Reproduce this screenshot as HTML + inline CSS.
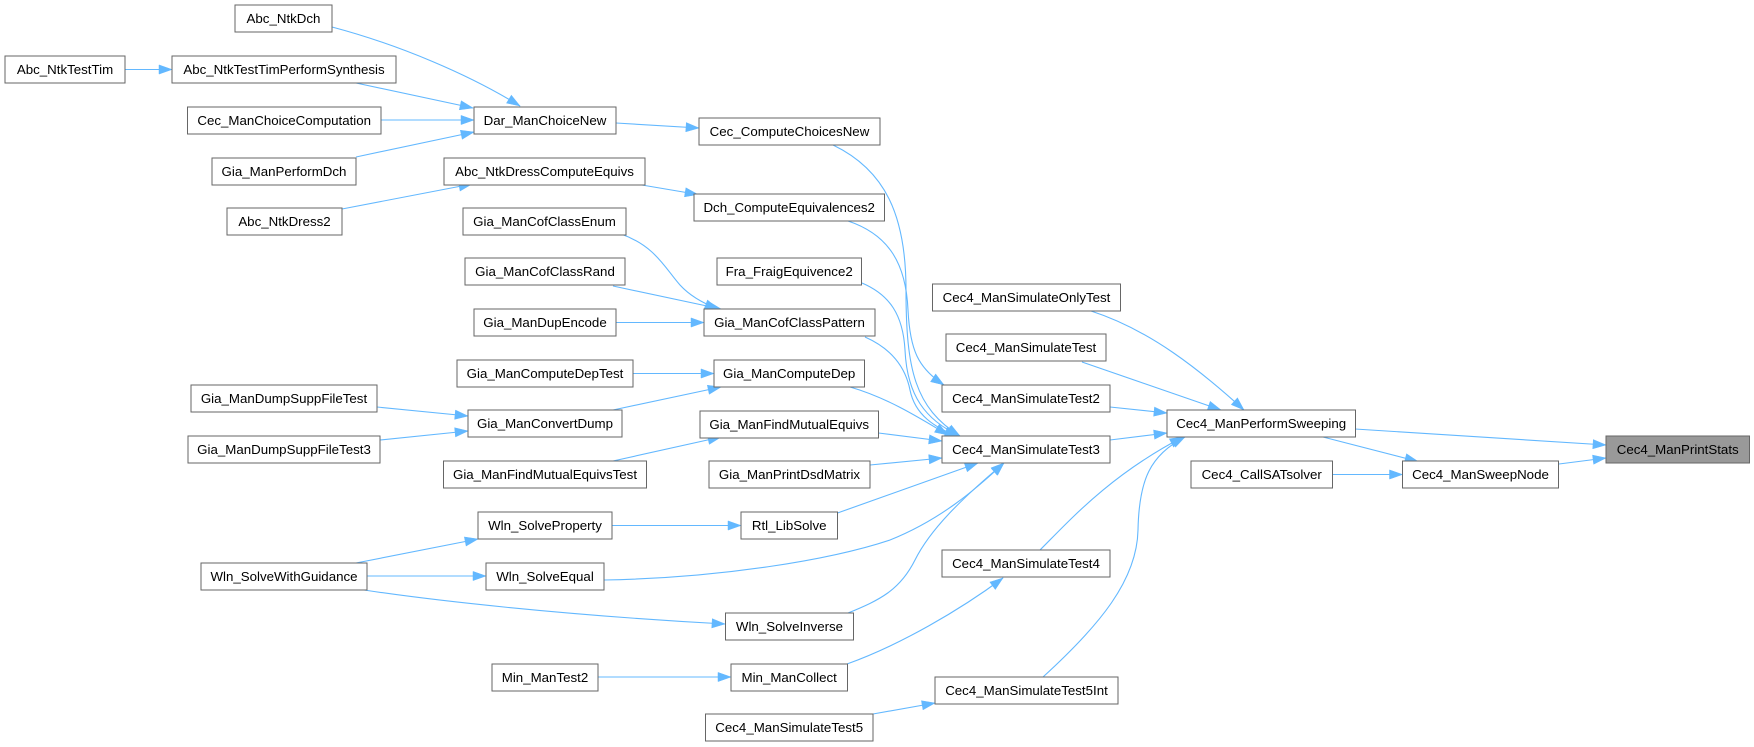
<!DOCTYPE html>
<html><head><meta charset="utf-8"><style>
html,body{margin:0;padding:0;background:#fff;}
svg{display:block;}
text{font-family:"Liberation Sans",Arial,sans-serif;font-size:13.3px;fill:#000;text-anchor:middle;}
rect{fill:#fff;stroke:#666;stroke-width:1;}
path.e{fill:none;stroke:#63b8ff;stroke-width:1.1;marker-end:url(#ah);}
</style></head><body>
<svg width="1754" height="747" viewBox="0 0 1754 747" xmlns="http://www.w3.org/2000/svg">
<defs>
<marker id="ah" markerUnits="userSpaceOnUse" markerWidth="14" markerHeight="10" viewBox="0 0 13 10" refX="13" refY="5" orient="auto">
<path d="M0,0.4 L13,5 L0,9.6 z" fill="#63b8ff" stroke="#63b8ff" stroke-width="0.5"/>
</marker>
</defs>

<!-- edges -->
<path class="e" d="M332,27 C400,45 470,75 520,106"/>
<path class="e" d="M356,83 L473,108"/>
<path class="e" d="M381,120 L474,120"/>
<path class="e" d="M356,157 L474,132"/>
<path class="e" d="M125,69.5 L172,69.5"/>
<path class="e" d="M342,209 L472,184"/>
<path class="e" d="M616,123 L699,128"/>
<path class="e" d="M636,184 L698,194.5"/>
<path class="e" d="M377,407 L468,416"/>
<path class="e" d="M380,440 L468,431"/>
<path class="e" d="M621,234 C655,246 665,268 680,285 C690,296 705,304 718,309"/>
<path class="e" d="M613,286 L721,309"/>
<path class="e" d="M616,322.5 L704,322.5"/>
<path class="e" d="M633,373.5 L714,373.5"/>
<path class="e" d="M613,410 L721,387"/>
<path class="e" d="M613,461 L721,437"/>
<path class="e" d="M356,563 L478,539"/>
<path class="e" d="M367,576 L486,576"/>
<path class="e" d="M364,590 C430,600 560,615 725,624"/>
<path class="e" d="M612,525.5 L741,525.5"/>
<path class="e" d="M598,677 L731,677"/>
<path class="e" d="M873,714 L935,703"/>

<path class="e" d="M833,145 C885,170 906,215 906,290 C906,370 915,408 960,436"/>
<path class="e" d="M848,221 C890,235 906,265 908,310 C910,350 918,368 944,385"/>
<path class="e" d="M862,283 C890,295 903,315 905,350 C907,395 925,420 960,436"/>
<path class="e" d="M865,337 C890,348 905,365 910,390 C915,415 935,428 958,436"/>
<path class="e" d="M850,387 C885,397 915,415 948,435"/>
<path class="e" d="M878.5,433 L942,441"/>
<path class="e" d="M870,465 L942,458"/>
<path class="e" d="M837.5,513 L978,463"/>
<path class="e" d="M604,580 C720,578 830,560 890,540 C940,520 975,490 1004,463"/>
<path class="e" d="M848,613 C880,600 900,590 915,560 C930,530 960,500 1004,463"/>
<path class="e" d="M847,664 C900,645 960,610 1003,578"/>

<path class="e" d="M1110,407 L1167,413"/>
<path class="e" d="M1110,440 L1167,433"/>
<path class="e" d="M1040,550 C1070,520 1110,475 1183,437"/>
<path class="e" d="M1043,677 C1100,625 1137,580 1138,530 C1139,480 1150,455 1185,437"/>
<path class="e" d="M1091,311 C1150,330 1200,370 1244,410"/>
<path class="e" d="M1082,362 L1221,410"/>
<path class="e" d="M1355,429 L1606,445"/>
<path class="e" d="M1323,437 L1418,461.5"/>
<path class="e" d="M1332.5,474.5 L1402.5,474.5"/>
<path class="e" d="M1559,464 L1606,458"/>

<!-- nodes -->
<g>
<rect x="235" y="5" width="97" height="27"/><text x="283.5" y="23">Abc_NtkDch</text>
<rect x="5" y="56" width="120" height="27"/><text x="65" y="74">Abc_NtkTestTim</text>
<rect x="172" y="56" width="224" height="27"/><text x="284" y="74">Abc_NtkTestTimPerformSynthesis</text>
<rect x="187.5" y="107" width="193.5" height="27"/><text x="284.2" y="125">Cec_ManChoiceComputation</text>
<rect x="212" y="158" width="144" height="27"/><text x="284" y="176">Gia_ManPerformDch</text>
<rect x="227" y="208" width="115" height="27"/><text x="284.5" y="226">Abc_NtkDress2</text>
<rect x="191" y="385" width="186" height="27"/><text x="284" y="403">Gia_ManDumpSuppFileTest</text>
<rect x="188" y="436" width="192" height="27"/><text x="284" y="454">Gia_ManDumpSuppFileTest3</text>
<rect x="201" y="563" width="166" height="27"/><text x="284" y="581">Wln_SolveWithGuidance</text>

<rect x="474" y="107" width="142" height="27"/><text x="545" y="125">Dar_ManChoiceNew</text>
<rect x="444" y="158" width="201" height="27"/><text x="544.5" y="176">Abc_NtkDressComputeEquivs</text>
<rect x="463" y="208" width="163" height="27"/><text x="544.5" y="226">Gia_ManCofClassEnum</text>
<rect x="465" y="258" width="160" height="27"/><text x="545" y="276">Gia_ManCofClassRand</text>
<rect x="474" y="309" width="142" height="27"/><text x="545" y="327">Gia_ManDupEncode</text>
<rect x="457" y="360" width="176" height="27"/><text x="545" y="378">Gia_ManComputeDepTest</text>
<rect x="468" y="410" width="154" height="27"/><text x="545" y="428">Gia_ManConvertDump</text>
<rect x="443.5" y="461" width="203" height="27"/><text x="545" y="479">Gia_ManFindMutualEquivsTest</text>
<rect x="478" y="512" width="134" height="27"/><text x="545" y="530">Wln_SolveProperty</text>
<rect x="486" y="563" width="118" height="27"/><text x="545" y="581">Wln_SolveEqual</text>
<rect x="492" y="664" width="106" height="27"/><text x="545" y="682">Min_ManTest2</text>

<rect x="699" y="118" width="181" height="27"/><text x="789.5" y="136">Cec_ComputeChoicesNew</text>
<rect x="694" y="194" width="190.5" height="27"/><text x="789.2" y="212">Dch_ComputeEquivalences2</text>
<rect x="717" y="258" width="144.5" height="27"/><text x="789.2" y="276">Fra_FraigEquivence2</text>
<rect x="704" y="309" width="171" height="27"/><text x="789.5" y="327">Gia_ManCofClassPattern</text>
<rect x="714" y="360" width="150.5" height="27"/><text x="789.2" y="378">Gia_ManComputeDep</text>
<rect x="700" y="411" width="178.5" height="27"/><text x="789.2" y="429">Gia_ManFindMutualEquivs</text>
<rect x="709" y="461" width="161" height="27"/><text x="789.5" y="479">Gia_ManPrintDsdMatrix</text>
<rect x="741" y="512" width="96.5" height="27"/><text x="789.2" y="530">Rtl_LibSolve</text>
<rect x="725.5" y="613" width="128" height="27"/><text x="789.5" y="631">Wln_SolveInverse</text>
<rect x="731" y="664" width="116.5" height="27"/><text x="789.2" y="682">Min_ManCollect</text>
<rect x="705.5" y="714" width="167.5" height="27"/><text x="789.2" y="732">Cec4_ManSimulateTest5</text>

<rect x="932.5" y="284" width="188" height="27"/><text x="1026.5" y="302">Cec4_ManSimulateOnlyTest</text>
<rect x="946" y="334" width="160" height="27"/><text x="1026" y="352">Cec4_ManSimulateTest</text>
<rect x="942" y="385" width="168" height="27"/><text x="1026" y="403">Cec4_ManSimulateTest2</text>
<rect x="942" y="436" width="168" height="27"/><text x="1026" y="454">Cec4_ManSimulateTest3</text>
<rect x="942" y="550" width="168" height="27"/><text x="1026" y="568">Cec4_ManSimulateTest4</text>
<rect x="935" y="677" width="183" height="27"/><text x="1026.5" y="695">Cec4_ManSimulateTest5Int</text>

<rect x="1167" y="410" width="188.5" height="27"/><text x="1261.2" y="428">Cec4_ManPerformSweeping</text>
<rect x="1191" y="461" width="141.5" height="27"/><text x="1261.7" y="479">Cec4_CallSATsolver</text>
<rect x="1402.5" y="461" width="156" height="27"/><text x="1480.5" y="479">Cec4_ManSweepNode</text>
<rect x="1606" y="436" width="143.5" height="27" style="fill:#999999"/><text x="1677.7" y="454">Cec4_ManPrintStats</text>
</g>
</svg>
</body></html>
